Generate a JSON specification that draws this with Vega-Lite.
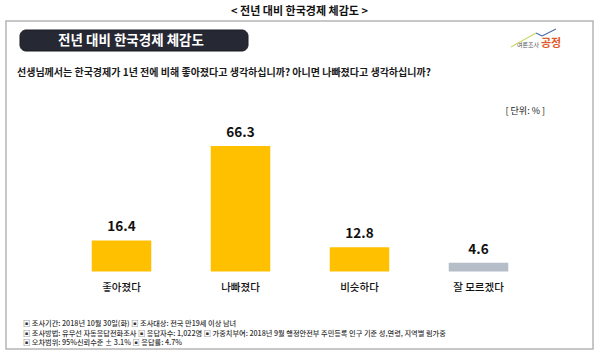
{
  "$schema": "https://vega.github.io/schema/vega-lite/v6.json",
  "width": 587,
  "height": 328,
  "autosize": "none",
  "padding": {"left": 6, "top": 21, "right": 6, "bottom": 8},
  "background": "white",
  "config": {
    "view": {"stroke": "#b5b5b5", "strokeWidth": 1.5},
    "font": "Noto Sans CJK KR"
  },
  "title": {
    "text": "< 전년 대비 한국경제 체감도 >",
    "fontSize": 11,
    "fontWeight": "bold",
    "color": "#111111",
    "anchor": "middle",
    "offset": 4,
    "font": "Noto Sans CJK KR"
  },
  "data": {
    "values": [
      {"category": "좋아졌다", "value": 16.4},
      {"category": "나빠졌다", "value": 66.3},
      {"category": "비슷하다", "value": 12.8},
      {"category": "잘 모르겠다", "value": 4.6}
    ]
  },
  "layer": [
    {
      "mark": {"type": "bar"},
      "encoding": {
        "x": {"field": "category", "type": "nominal", "sort": null, "axis": null,
              "scale": {"domain": ["좋아졌다", "나빠졌다", "비슷하다", "잘 모르겠다"], "range": [56, 532], "paddingInner": 0.5, "paddingOuter": 0.25}},
        "y": {"field": "value", "type": "quantitative", "axis": null,
              "scale": {"domain": [0, 100], "range": [250.5, 61.2], "nice": false}},
        "color": {"field": "category", "type": "nominal", "legend": null,
                  "scale": {"domain": ["좋아졌다", "나빠졌다", "비슷하다", "잘 모르겠다"], "range": ["#ffc000", "#ffc000", "#ffc000", "#b5bdc9"]}}
      }
    },
    {
      "mark": {"type": "text", "fontSize": 13.5, "fontWeight": "bold", "color": "#111111", "baseline": "bottom", "dy": -6},
      "encoding": {
        "x": {"field": "category", "type": "nominal", "sort": null},
        "y": {"field": "value", "type": "quantitative"},
        "text": {"field": "value", "type": "quantitative", "format": ".1f"}
      }
    },
    {
      "mark": {"type": "text", "fontSize": 10.5, "fontWeight": 500, "color": "#111111", "baseline": "middle", "dy": 16.5},
      "encoding": {
        "x": {"field": "category", "type": "nominal", "sort": null},
        "y": {"datum": 0, "type": "quantitative"},
        "text": {"field": "category", "type": "nominal"}
      }
    },
    {
      "data": {"values": [{"label": "header"}]},
      "mark": {"type": "rect", "x": 14, "x2": 242, "y": 9, "y2": 30, "cornerRadius": 6, "fill": "#262833", "stroke": "#1a1b22", "strokeWidth": 1},
      "encoding": {}
    },
    {
      "data": {"values": [{"label": "전년 대비 한국경제 체감도"}]},
      "mark": {"type": "text", "x": 125, "y": 20, "fontSize": 13.5, "fontWeight": "bold", "color": "#ffffff", "align": "center", "baseline": "middle"},
      "encoding": {"text": {"field": "label", "type": "nominal"}}
    },
    {
      "data": {"values": [{"label": "선생님께서는 한국경제가 1년 전에 비해 좋아졌다고 생각하십니까? 아니면 나빠졌다고 생각하십니까?"}]},
      "mark": {"type": "text", "x": 11, "y": 52, "fontSize": 10, "fontWeight": "bold", "color": "#1a1a1a", "align": "left", "baseline": "middle"},
      "encoding": {"text": {"field": "label", "type": "nominal"}}
    },
    {
      "data": {"values": [{"label": "[ 단위: % ]"}]},
      "mark": {"type": "text", "x": 539, "y": 90, "fontSize": 9, "color": "#222222", "align": "right", "baseline": "middle"},
      "encoding": {"text": {"field": "label", "type": "nominal"}}
    },
    {
      "data": {"values": [{"label": "여론조사"}]},
      "mark": {"type": "text", "x": 533, "y": 24, "fontSize": 6, "color": "#555555", "align": "right", "baseline": "middle"},
      "encoding": {"text": {"field": "label", "type": "nominal"}}
    },
    {
      "data": {"values": [{"label": "공정"}]},
      "mark": {"type": "text", "x": 535, "y": 23, "fontSize": 11, "fontWeight": "bold", "color": "#e05a2b", "align": "left", "baseline": "middle"},
      "encoding": {"text": {"field": "label", "type": "nominal"}}
    },
    {
      "data": {"values": [{"label": "logo1"}]},
      "mark": {"type": "rule", "stroke": "#c8d86a", "strokeWidth": 1.2},
      "encoding": {"x": {"value": 505}, "y": {"value": 26}, "x2": {"value": 530}, "y2": {"value": 12}}
    },
    {
      "data": {"values": [{"label": "logo2"}]},
      "mark": {"type": "rule", "stroke": "#4a6fb0", "strokeWidth": 1.2},
      "encoding": {"x": {"value": 530}, "y": {"value": 12}, "x2": {"value": 536}, "y2": {"value": 15}}
    },
    {
      "data": {"values": [{"label": "logo3"}]},
      "mark": {"type": "rule", "stroke": "#4a6fb0", "strokeWidth": 1.2},
      "encoding": {"x": {"value": 536}, "y": {"value": 15}, "x2": {"value": 550}, "y2": {"value": 8}}
    },
    {
      "data": {"values": [{"label": "▣ 조사기간: 2018년 10월 30일(화) ▣ 조사대상: 전국 만19세 이상 남녀"}]},
      "mark": {"type": "text", "x": 17, "y": 303.3, "fontSize": 7.2, "fontWeight": 500, "color": "#333333", "align": "left", "baseline": "middle"},
      "encoding": {"text": {"field": "label", "type": "nominal"}}
    },
    {
      "data": {"values": [{"label": "▣ 조사방법: 유무선 자동응답전화조사 ▣ 응답자수: 1,022명 ▣ 가중치부여: 2018년 9월 행정안전부 주민등록 인구 기준 성,연령, 지역별 림가중"}]},
      "mark": {"type": "text", "x": 17, "y": 312.6, "fontSize": 7.2, "fontWeight": 500, "color": "#333333", "align": "left", "baseline": "middle"},
      "encoding": {"text": {"field": "label", "type": "nominal"}}
    },
    {
      "data": {"values": [{"label": "▣ 오차범위: 95%신뢰수준 ± 3.1% ▣ 응답률: 4.7%"}]},
      "mark": {"type": "text", "x": 17, "y": 321.9, "fontSize": 7.2, "fontWeight": 500, "color": "#333333", "align": "left", "baseline": "middle"},
      "encoding": {"text": {"field": "label", "type": "nominal"}}
    }
  ]
}
